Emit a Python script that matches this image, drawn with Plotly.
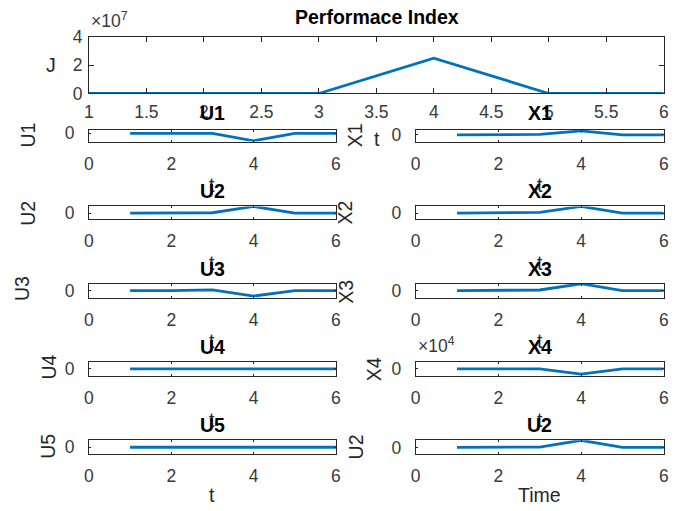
import plotly.graph_objects as go

W, H = 676, 511

# time samples
t = [1, 2, 3, 4, 5, 6]

# performance index
J = [0, 0, 0, 2.5e7, 0, 0]

# control inputs
U1 = [0, 0, 0, -1.0, 0, 0]
U2 = [0, 0, 0.05, 1.0, 0, 0]
U3 = [0, 0, 0.15, -1.0, 0, 0]
U4 = [0, 0, 0, 0, 0, 0]
U5 = [0, 0, 0, 0, 0, 0]

# states
X1 = [0, 0, 0.1, 1.0, 0, 0]
X2 = [0, 0, 0.1, 1.0, 0, 0]
X3 = [0, 0, 0.1, 1.0, 0, 0]
X4 = [0, 0, 0, -1.2e4, 0, 0]

# tick labels
J_xticks = [1, 1.5, 2, 2.5, 3, 3.5, 4, 4.5, 5, 5.5, 6]
J_yticks = [0, 2e7, 4e7]
J_yticktext = ["0", "2", "4"]
small_xticks = [0, 2, 4, 6]

LINE = "#0072BD"
AX = "#262626"
TICKC = "#3a3a3a"
FONT = "Liberation Sans, Arial, sans-serif"
TICK_SIZE = 17.5
LABEL_SIZE = 19.5
TITLE_SIZE = 19.5

# layout grid in page pixels; the drawing sits in the page body with an
# 8 px margin, so positions are converted into figure pixels
OFF = 8
SX, SY = W / (W + 2 * OFF), H / (H + 2 * OFF)


def fx(p):
    return p / SX - OFF


def fy(p):
    return p / SY - OFF


def px_x(a, b):
    return [fx(a) / W, min(fx(b) / W, 1.0)]


def px_y(top, bottom):
    return [1 - fy(bottom) / H, 1 - fy(top) / H]


LEFT = (91, 336)
RIGHT = (415, 661)
ROWS = [(128.5, 140.5), (206, 219), (284, 298), (363, 377), (442, 456)]
TITLE_Y = [112, 190, 269, 348, 427]
XLABEL_Y = [184.5, 263, 342, 421, 497.5]

# (name, data, column, row, y-range, xlabel)
panels = [
    ("U1", U1, LEFT, 0, [-1.1, 0.5], "t"),
    ("U2", U2, LEFT, 1, [-0.95, 1.0], "t"),
    ("U3", U3, LEFT, 2, [-1.3, 1.3], "t"),
    ("U4", U4, LEFT, 3, [-1.0, 1.0], "t"),
    ("U5", U5, LEFT, 4, [-1.0, 1.0], "t"),
    ("X1", X1, RIGHT, 0, [-1.7, 1.3], "t"),
    ("X2", X2, RIGHT, 1, [-0.95, 1.0], "t"),
    ("X3", X3, RIGHT, 2, [-1.0, 1.0], "t"),
    ("X4", X4, RIGHT, 3, [-1.6e4, 1.6e4], "t"),
    ("U2", U2, RIGHT, 4, [-0.95, 1.0], "Time"),
]

# ylabel positions (x, y) in page pixels
ylabel_pos = [(31, 134), (31, 213), (24, 289), (51, 368), (51, 448),
              (355, 134), (345, 212), (346, 292), (374, 370), (356, 449)]

fig = go.Figure()
layout = dict(
    width=W, height=H,
    margin=dict(l=0, r=0, t=0, b=0),
    paper_bgcolor="white", plot_bgcolor="white",
    showlegend=False,
    font=dict(family=FONT, size=TICK_SIZE, color=TICKC),
)

common_axis = dict(
    showgrid=False, zeroline=False, showline=True, mirror="ticks",
    linecolor=AX, linewidth=1, ticks="inside", tickcolor=AX,
    tickfont=dict(family=FONT, size=TICK_SIZE, color=TICKC),
)

# top panel: performance index
fig.add_trace(go.Scatter(x=t, y=J, mode="lines",
                         line=dict(color=LINE, width=2.8),
                         xaxis="x", yaxis="y", hoverinfo="skip"))
layout["xaxis"] = dict(common_axis, domain=px_x(91, 661), anchor="y",
                       range=[1, 6], tickvals=J_xticks,
                       ticktext=[f"{v:g}" for v in J_xticks],
                       ticklen=5, ticklabelstandoff=3)
layout["yaxis"] = dict(common_axis, domain=px_y(35, 92), anchor="x",
                       range=[0, 4e7], tickvals=J_yticks, ticktext=J_yticktext,
                       ticklen=5, ticklabelstandoff=2)

annotations = []


def ann(x, y, text, size=LABEL_SIZE, bold=False, angle=0, xanchor="center",
        color=AX):
    annotations.append(dict(
        x=fx(x) / W, y=1 - fy(y) / H, xref="paper", yref="paper",
        text=f"<b>{text}</b>" if bold else text, showarrow=False,
        textangle=angle, xanchor=xanchor, yanchor="middle",
        font=dict(family=FONT, size=size, color=color),
    ))


ann(377, 15, "Performace Index", size=TITLE_SIZE, bold=True, color="#000")
ann(91, 18, "×10<sup>7</sup>", size=17.5, xanchor="left", color=TICKC)
ann(53, 63, "J")
ann(377, 138, "t")

for i, (name, data, col, row, yr, xl) in enumerate(panels):
    k = i + 2
    top, bottom = ROWS[row]
    fig.add_trace(go.Scatter(x=t, y=data, mode="lines",
                             line=dict(color=LINE, width=2.8),
                             xaxis=f"x{k}", yaxis=f"y{k}", hoverinfo="skip"))
    layout[f"xaxis{k}"] = dict(common_axis, domain=px_x(*col), anchor=f"y{k}",
                               range=[0, 6], tickvals=small_xticks,
                               ticklen=2, ticklabelstandoff=6)
    layout[f"yaxis{k}"] = dict(common_axis, domain=px_y(top, bottom),
                               anchor=f"x{k}", range=yr, tickvals=[0],
                               ticktext=["0"], ticklen=2, ticklabelstandoff=10)
    cx = (col[0] + col[1]) / 2
    ann(cx, TITLE_Y[row], name, size=TITLE_SIZE, bold=True, color="#000")
    ann(cx, XLABEL_Y[row], xl)
    lx, ly = ylabel_pos[i]
    ann(lx, ly, name, angle=-90)

ann(415, 346, "×10<sup>4</sup>", size=17.5, xanchor="left", color=TICKC)

layout["annotations"] = annotations
fig.update_layout(**layout)
fig.write_html("out.html")
